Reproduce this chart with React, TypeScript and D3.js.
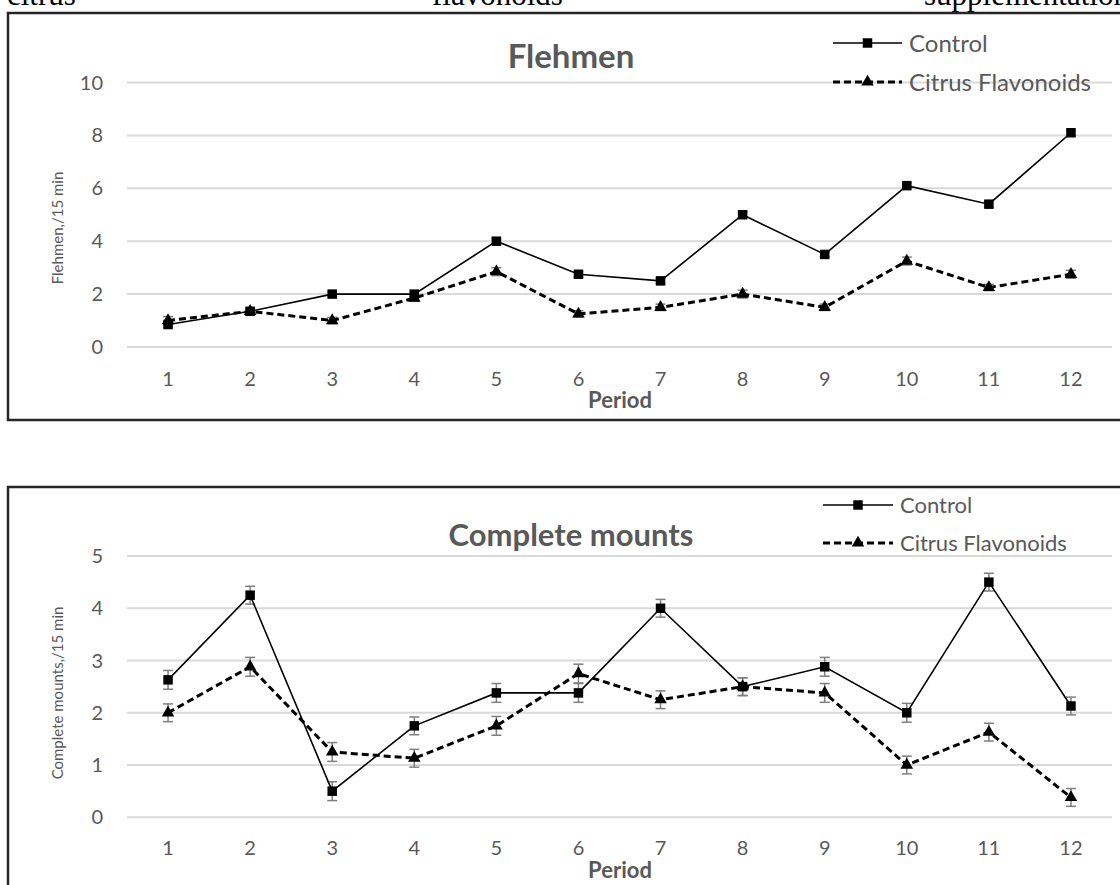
import React from "react";
import * as d3 from "d3";

// Periods on the x axis
const periods = [1, 2, 3, 4, 5, 6, 7, 8, 9, 10, 11, 12];

// Flehmen, counts per 15 min
const flehmenControl = [0.85, 1.35, 2.0, 2.0, 4.0, 2.75, 2.5, 5.0, 3.5, 6.1, 5.4, 8.1];
const flehmenCitrus = [1.0, 1.35, 1.0, 1.85, 2.85, 1.25, 1.5, 2.0, 1.5, 3.25, 2.25, 2.75];
const flehmenControlErr = [0.1, 0.1, 0.1, 0.1, 0.1, 0.1, 0.1, 0.1, 0.1, 0.1, 0.1, 0.1];
const flehmenCitrusErr = [0.15, 0.12, 0.12, 0.12, 0.15, 0.12, 0.12, 0.15, 0.12, 0.15, 0.12, 0.15];
const flehmenTicks = [0, 2, 4, 6, 8, 10];

// Complete mounts, counts per 15 min
const mountsControl = [2.63, 4.25, 0.5, 1.75, 2.38, 2.38, 4.0, 2.5, 2.88, 2.0, 4.5, 2.13];
const mountsCitrus = [2.0, 2.88, 1.25, 1.13, 1.75, 2.75, 2.25, 2.5, 2.38, 1.0, 1.63, 0.38];
const mountsControlErr = [0.18, 0.17, 0.18, 0.17, 0.18, 0.18, 0.17, 0.17, 0.18, 0.18, 0.17, 0.17];
const mountsCitrusErr = [0.17, 0.18, 0.18, 0.17, 0.18, 0.18, 0.17, 0.17, 0.18, 0.17, 0.17, 0.17];
const mountsTicks = [0, 1, 2, 3, 4, 5];

const seriesNames = ["Control", "Citrus Flavonoids"];

const FONT = "Lato, 'Open Sans', sans-serif";
const TEXT = "#595959";
const GRID = "#d9d9d9";
const ERR = "#7f7f7f";

type PanelProps = {
  frameTop: number;
  plotTop: number;
  plotBottom: number;
  yMax: number;
  ticks: number[];
  control: number[];
  citrus: number[];
  controlErr: number[];
  citrusErr: number[];
  title: string;
  titleY: number;
  titleSize: number;
  yTitle: string;
  yTitleY: number;
  xLabelY: number;
  periodY: number;
  legend: { lineX0: number; lineX1: number; textX: number; rows: number[]; size: number };
};

function Panel(p: PanelProps) {
  const x = d3.scaleBand<number>().domain(periods).range([127, 1112]).padding(0);
  const cx = (d: number) => (x(d) as number) + x.bandwidth() / 2;
  const y = d3.scaleLinear().domain([0, p.yMax]).range([p.plotBottom, p.plotTop]);

  const line = d3
    .line<number>()
    .x((_, i) => cx(periods[i]))
    .y((v) => y(v));

  const square = d3.symbol().type(d3.symbolSquare).size(90)() as string;
  const tri = d3.symbol().type(d3.symbolTriangle).size(68)() as string;

  const errBars = (vals: number[], errs: number[], key: string) =>
    vals.map((v, i) => {
      const px = cx(periods[i]);
      const y1 = y(v + errs[i]);
      const y2 = y(v - errs[i]);
      return (
        <g key={key + i} stroke={ERR} strokeWidth={1.5}>
          <line x1={px} x2={px} y1={y1} y2={y2} />
          <line x1={px - 5} x2={px + 5} y1={y1} y2={y1} />
          <line x1={px - 5} x2={px + 5} y1={y2} y2={y2} />
        </g>
      );
    });

  const lg = p.legend;
  const lgMid = (lg.lineX0 + lg.lineX1) / 2;

  return (
    <g>
      {/* chart frame */}
      <rect x={8} y={p.frameTop} width={1140} height={p.plotBottom - p.frameTop + 73} fill="none" stroke="#262626" strokeWidth={2.5} />

      {/* horizontal gridlines and value labels */}
      {p.ticks.map((t) => (
        <g key={"t" + t}>
          <line x1={127} x2={1112} y1={y(t)} y2={y(t)} stroke={GRID} strokeWidth={2} />
          <text x={103} y={y(t) + 7} textAnchor="end" fontSize={20} fill={TEXT} fontFamily={FONT}>
            {t}
          </text>
        </g>
      ))}

      {/* period labels */}
      {periods.map((d) => (
        <text key={"x" + d} x={cx(d)} y={p.xLabelY} textAnchor="middle" fontSize={20} fill={TEXT} fontFamily={FONT}>
          {d}
        </text>
      ))}
      <text x={620} y={p.periodY} textAnchor="middle" fontSize={22} fontWeight="bold" fill={TEXT} fontFamily={FONT}>
        Period
      </text>

      {/* y axis title */}
      <text
        transform={`translate(63,${p.yTitleY}) rotate(-90)`}
        textAnchor="middle"
        fontSize={15}
        fill={TEXT}
        fontFamily={FONT}
      >
        {p.yTitle}
      </text>

      {/* chart title */}
      <text x={571} y={p.titleY} textAnchor="middle" fontSize={p.titleSize} fontWeight="bold" fill={TEXT} fontFamily={FONT}>
        {p.title}
      </text>

      {/* error bars */}
      {errBars(p.control, p.controlErr, "ec")}
      {errBars(p.citrus, p.citrusErr, "ef")}

      {/* series lines */}
      <path d={line(p.control) as string} fill="none" stroke="#000" strokeWidth={1.6} />
      <path d={line(p.citrus) as string} fill="none" stroke="#000" strokeWidth={3} strokeDasharray="7,4" />

      {/* markers */}
      {p.control.map((v, i) => (
        <path key={"mc" + i} d={square} transform={`translate(${cx(periods[i])},${y(v)})`} fill="#000" />
      ))}
      {p.citrus.map((v, i) => (
        <path key={"mf" + i} d={tri} transform={`translate(${cx(periods[i])},${y(v)})`} fill="#000" />
      ))}

      {/* legend */}
      <g>
        <line x1={lg.lineX0} x2={lg.lineX1} y1={lg.rows[0]} y2={lg.rows[0]} stroke="#000" strokeWidth={1.6} />
        <path d={square} transform={`translate(${lgMid},${lg.rows[0]})`} fill="#000" />
        <text x={lg.textX} y={lg.rows[0] + lg.size * 0.36} fontSize={lg.size} fill={TEXT} fontFamily={FONT}>
          {seriesNames[0]}
        </text>
        <line x1={lg.lineX0} x2={lg.lineX1} y1={lg.rows[1]} y2={lg.rows[1]} stroke="#000" strokeWidth={3} strokeDasharray="7,4" />
        <path d={tri} transform={`translate(${lgMid},${lg.rows[1]})`} fill="#000" />
        <text x={lg.textX} y={lg.rows[1] + lg.size * 0.36} fontSize={lg.size} fill={TEXT} fontFamily={FONT}>
          {seriesNames[1]}
        </text>
      </g>
    </g>
  );
}

export default function App() {
  return (
    <svg
      width={1120}
      height={885}
      style={{ position: "absolute", left: 0, top: 0, background: "#fff" }}
    >
      {/* running text of the page above the figure */}
      <g fontFamily="'Liberation Serif', 'Times New Roman', serif" fontSize={31} fill="#000">
        <text x={7} y={5}>citrus</text>
        <text x={432} y={5}>flavonoids</text>
        <text x={924} y={5}>supplementation</text>
      </g>

      <Panel
        frameTop={13}
        plotTop={82.5}
        plotBottom={347}
        yMax={10}
        ticks={flehmenTicks}
        control={flehmenControl}
        citrus={flehmenCitrus}
        controlErr={flehmenControlErr}
        citrusErr={flehmenCitrusErr}
        title="Flehmen"
        titleY={68}
        titleSize={33}
        yTitle="Flehmen,/15 min"
        yTitleY={228}
        xLabelY={386}
        periodY={408}
        legend={{ lineX0: 833, lineX1: 902, textX: 909, rows: [43, 82], size: 24 }}
      />

      <Panel
        frameTop={487}
        plotTop={556}
        plotBottom={817.3}
        yMax={5}
        ticks={mountsTicks}
        control={mountsControl}
        citrus={mountsCitrus}
        controlErr={mountsControlErr}
        citrusErr={mountsCitrusErr}
        title="Complete mounts"
        titleY={546}
        titleSize={31}
        yTitle="Complete mounts,/15 min"
        yTitleY={693}
        xLabelY={855}
        periodY={878}
        legend={{ lineX0: 823, lineX1: 893, textX: 900, rows: [505, 543], size: 22 }}
      />
    </svg>
  );
}
